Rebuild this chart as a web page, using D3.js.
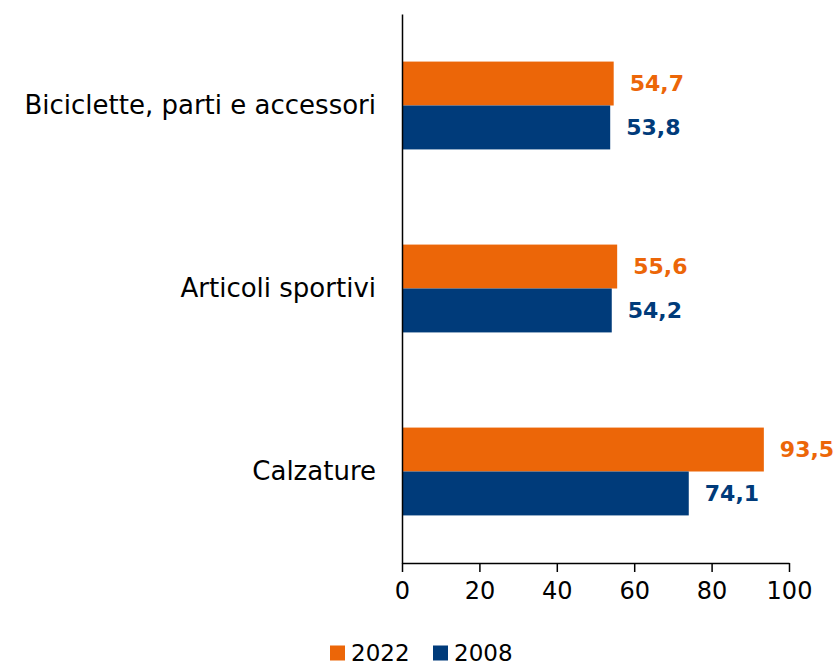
<!DOCTYPE html>
<html>
<head>
<meta charset="utf-8">
<script src="https://cdn.jsdelivr.net/npm/d3@7"></script>
<style>
  body { margin: 0; background: #fff; }
  text { font-family: "DejaVu Sans", sans-serif; }
</style>
</head>
<body>
<script>
const categories = ["Biciclette, parti e accessori", "Articoli sportivi", "Calzature"];
const series = ["2022", "2008"];
const values2022 = [54.7, 55.6, 93.5];
const values2008 = [53.8, 54.2, 74.1];
const xTicks = [0, 20, 40, 60, 80, 100];

const colors = { "2022": "#EC6608", "2008": "#003B7A" };

const width = 835, height = 667;
const margin = { top: 14, left: 402, right: 46, bottom: 104 };
const plotW = width - margin.left - margin.right;
const plotH = height - margin.top - margin.bottom;

const svg = d3.select("body").append("svg")
  .attr("width", width)
  .attr("height", height);

const g = svg.append("g")
  .attr("transform", `translate(${margin.left},${margin.top})`);

const xScale = d3.scaleLinear([0, 100], [0, plotW]);
const yScale = d3.scaleBand(categories, [0, plotH]).paddingInner(0.52).paddingOuter(0.26);
const sub = d3.scaleBand(series, [0, yScale.bandwidth()]);

const data = categories.map((c, i) => ({
  cat: c,
  vals: [
    { s: "2022", v: values2022[i] },
    { s: "2008", v: values2008[i] }
  ]
}));

// bars
const groups = g.selectAll("g.cat")
  .data(data)
  .join("g")
  .attr("class", "cat")
  .attr("transform", d => `translate(0,${yScale(d.cat)})`);

groups.selectAll("rect")
  .data(d => d.vals)
  .join("rect")
  .attr("x", 0)
  .attr("y", d => sub(d.s))
  .attr("width", d => xScale(d.v))
  .attr("height", sub.bandwidth())
  .attr("fill", d => colors[d.s]);

// value labels
groups.selectAll("text.val")
  .data(d => d.vals)
  .join("text")
  .attr("class", "val")
  .attr("x", d => xScale(d.v) + 16)
  .attr("y", d => sub(d.s) + sub.bandwidth() / 2)
  .attr("dy", "0.36em")
  .attr("fill", d => colors[d.s])
  .style("font-size", "22px")
  .style("font-weight", "bold")
  .text(d => d3.format(".1f")(d.v).replace(".", ","));

// x axis
const xAxis = g.append("g")
  .attr("transform", `translate(0,${plotH})`)
  .call(d3.axisBottom(xScale).tickValues(xTicks).tickSize(9).tickPadding(10).tickSizeOuter(0));
xAxis.select(".domain").attr("stroke", "#000").attr("stroke-width", 1.5);
xAxis.selectAll(".tick line").attr("stroke", "#000").attr("stroke-width", 1.5);
xAxis.selectAll(".tick text")
  .style("font-size", "24px")
  .style("font-family", "DejaVu Sans, sans-serif")
  .attr("fill", "#000");

// y axis
const yAxis = g.append("g")
  .call(d3.axisLeft(yScale).tickSize(0).tickPadding(26));
yAxis.select(".domain").attr("stroke", "#000").attr("stroke-width", 1.5);
yAxis.selectAll(".tick text")
  .style("font-size", "26px")
  .style("font-family", "DejaVu Sans, sans-serif")
  .attr("fill", "#000");

// legend
const legend = svg.append("g").attr("transform", "translate(330,653)");
const legendX = [0, 103];
series.forEach((s, i) => {
  const item = legend.append("g").attr("transform", `translate(${legendX[i]},0)`);
  item.append("rect")
    .attr("x", 0).attr("y", -7.5)
    .attr("width", 15).attr("height", 15)
    .attr("fill", colors[s]);
  item.append("text")
    .attr("x", 21).attr("y", 0)
    .attr("dy", "0.36em")
    .style("font-size", "23px")
    .attr("fill", "#000")
    .text(s);
});
</script>
</body>
</html>
